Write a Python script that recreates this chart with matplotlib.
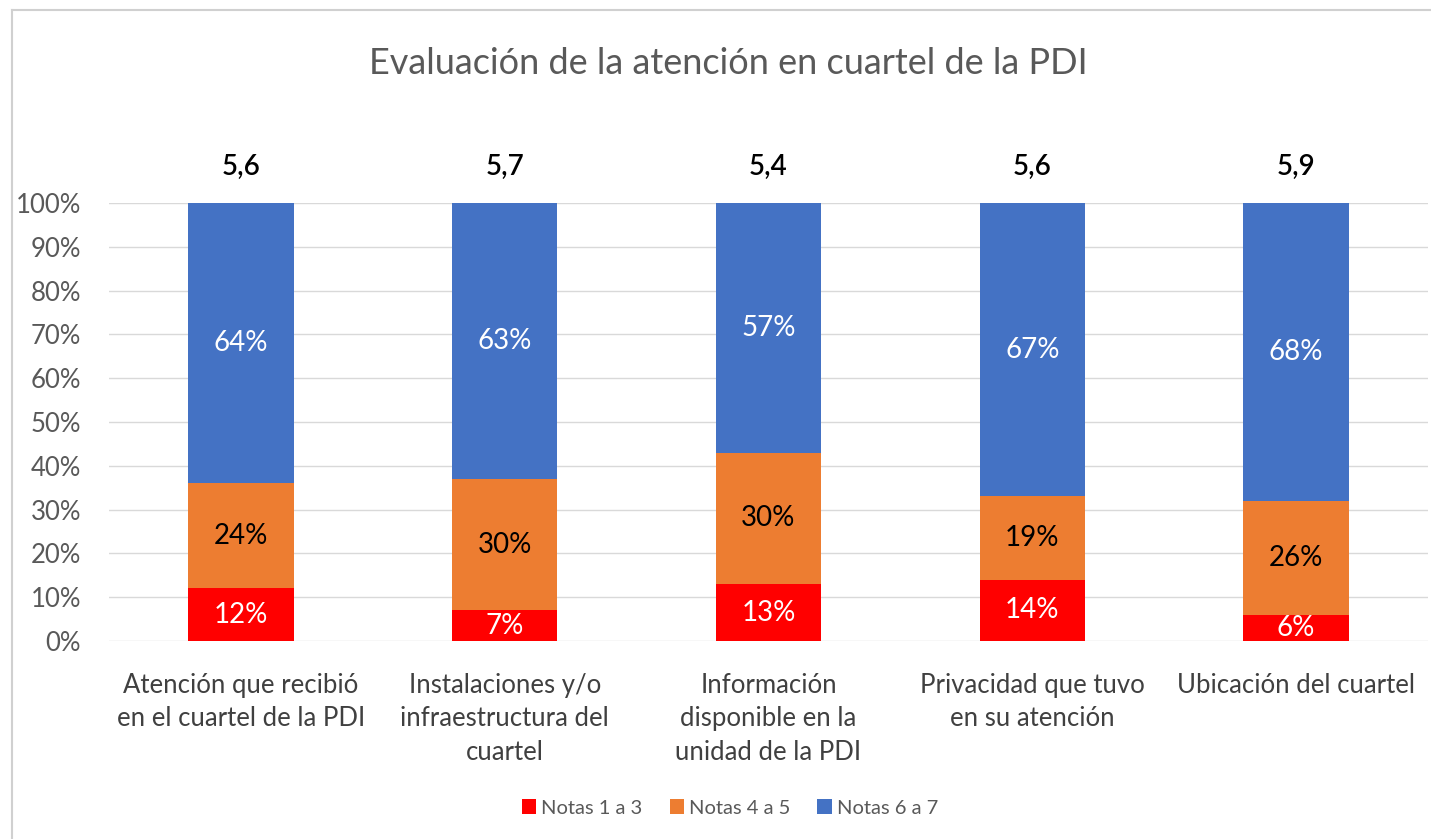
import matplotlib
matplotlib.use("Agg")
import matplotlib.pyplot as plt
from matplotlib.patches import Patch
from matplotlib.lines import Line2D

plt.rcParams['font.family'] = ['Lato', 'DejaVu Sans']

categories = ["Atención que recibió\nen el cuartel de la PDI",
              "Instalaciones y/o\ninfraestructura del\ncuartel",
              "Información\ndisponible en la\nunidad de la PDI",
              "Privacidad que tuvo\nen su atención",
              "Ubicación del cuartel"]
notas_1_3 = [12, 7, 13, 14, 6]
notas_4_5 = [24, 30, 30, 19, 26]
notas_6_7 = [64, 63, 57, 67, 68]
promedios = ["5,6", "5,7", "5,4", "5,6", "5,9"]
series_names = ["Notas 1 a 3", "Notas 4 a 5", "Notas 6 a 7"]
colors = ["#FF0000", "#ED7D31", "#4472C4"]
yticks = list(range(0, 101, 10))

fig = plt.figure(figsize=(14.31, 8.39), dpi=100)
ax = fig.add_axes([109/1431, 1-641/839, (1428-109)/1431, 438/839])

x = list(range(len(categories)))
w = 0.40
bottom = [0]*len(x)
label_colors = ["white", "black", "white"]
for vals, col, name, lc in zip([notas_1_3, notas_4_5, notas_6_7], colors, series_names, label_colors):
    ax.bar(x, vals, w, bottom=bottom, color=col, label=name, zorder=3)
    for xi, v, b in zip(x, vals, bottom):
        ax.text(xi, b + v/2, f"{v}%", ha="center", va="center", color=lc, fontsize=20, zorder=4)
    bottom = [b + v for b, v in zip(bottom, vals)]

for xi, p in zip(x, promedios):
    ax.text(xi, 108.3, p, ha="center", va="center", fontsize=20, fontweight="semibold", color="black")

ax.set_xlim(-0.5, len(x)-0.5)
ax.set_ylim(0, 100)
ax.set_yticks(yticks)
ax.set_yticklabels([f"{t}%" for t in yticks], fontsize=18.5, color="#595959")
ax.yaxis.grid(True, color="#D9D9D9", linewidth=1, zorder=0)
ax.set_xticks(x)
ax.set_xticklabels(categories, fontsize=18.5, color="#404040", linespacing=1.42, va="top")
ax.tick_params(axis="both", length=0)
ax.tick_params(axis="x", pad=23)
ax.tick_params(axis="y", pad=20)
for s in ax.spines.values():
    s.set_visible(False)

fig.text(728/1431, 1-63/839, "Evaluación de la atención en cuartel de la PDI",
         ha="center", va="center", fontsize=26, color="#595959")

handles = [Patch(facecolor=c, edgecolor="none") for c in colors]
fig.legend(handles, series_names, loc="center", bbox_to_anchor=(730/1431, 1-808/839),
           ncol=3, frameon=False, fontsize=14.5, handlelength=0.7, handleheight=0.7,
           handletextpad=0.25, columnspacing=1.35, labelcolor="#595959")

# chart frame edges
fig.add_artist(Line2D([12/1431, 1], [1-10/839, 1-10/839], color="#D0D0D0", lw=1.5))
fig.add_artist(Line2D([12/1431, 12/1431], [0, 1-10/839], color="#D0D0D0", lw=1.5))

fig.savefig("out.png", dpi=100)
